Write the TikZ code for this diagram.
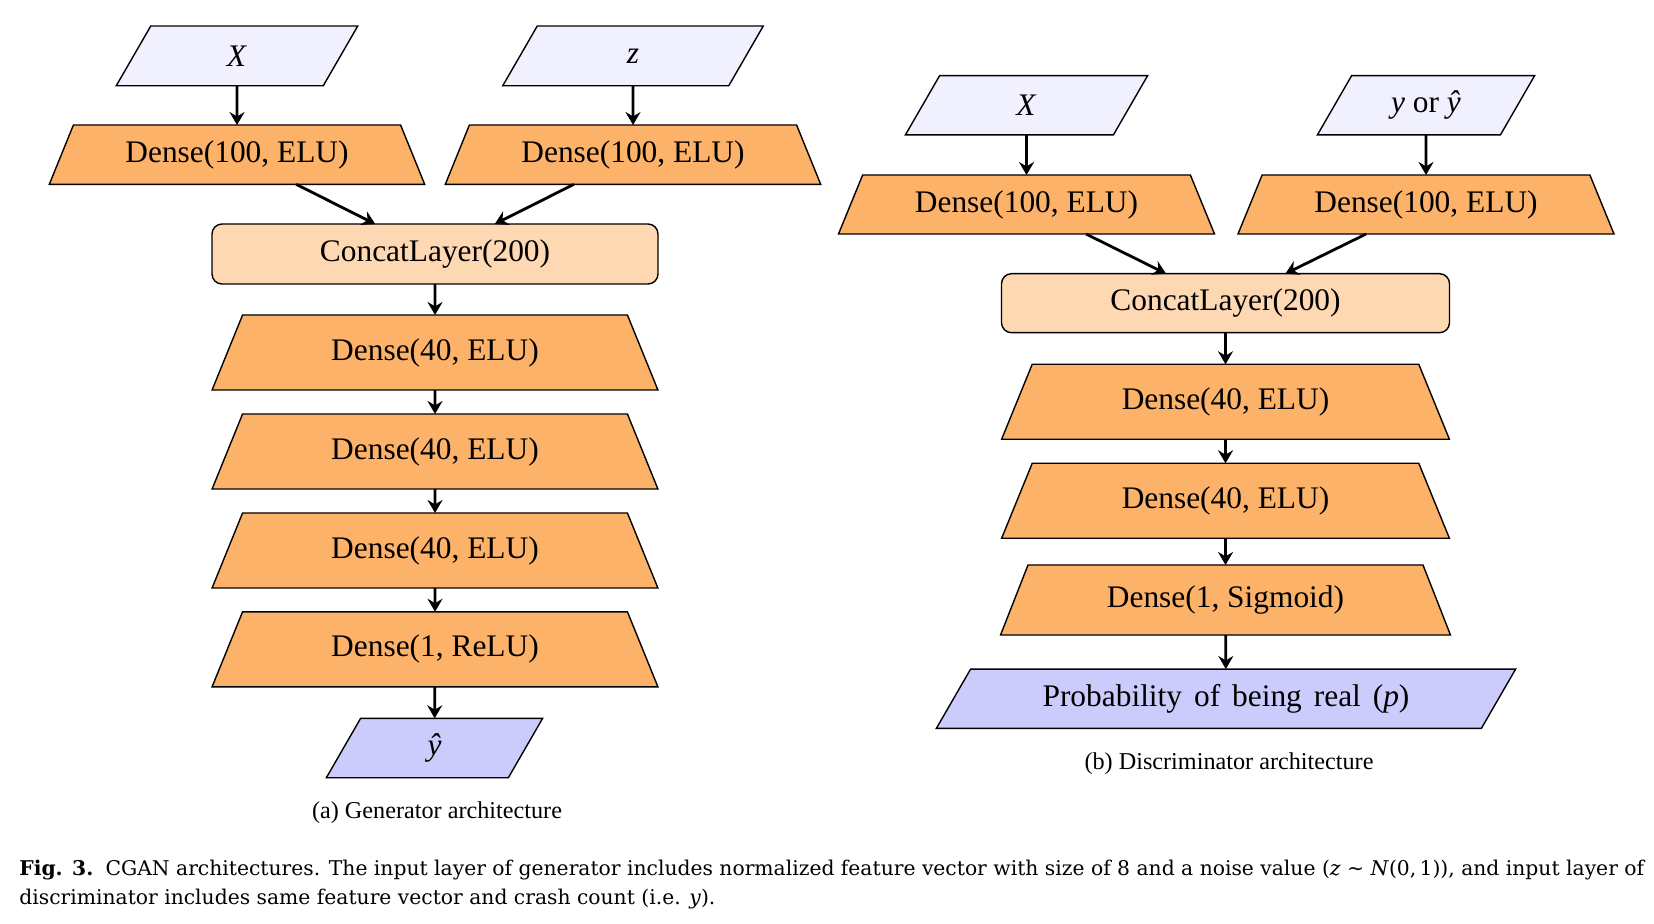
\documentclass[tikz,border=0pt]{standalone}
\usepackage{fontspec}
\setmainfont{Liberation Serif}
\newfontfamily\capfont{DejaVu Serif}
\usetikzlibrary{shapes.geometric,arrows.meta,backgrounds}
\definecolor{inpfill}{RGB}{240,240,254}
\definecolor{layfill}{RGB}{253,178,106}
\definecolor{catfill}{RGB}{254,216,178}
\definecolor{outfill}{RGB}{204,204,252}
% parallelogram outline round a rectangular node: #1 node, #2 fill, #3 half slant
\newcommand{\drawpara}[3]{%
  \begin{scope}[on background layer]
  \draw[line width=0.7pt, fill=#2] ([xshift=-#3]#1.south west) -- ([xshift=-#3]#1.south east)
     -- ([xshift=#3]#1.north east) -- ([xshift=#3]#1.north west) -- cycle;
  \end{scope}}
\begin{document}
\begin{tikzpicture}[x=0.5pt,y=-0.5pt,
  base/.style={draw, line width=0.7pt, inner sep=0pt, outer sep=0pt, font=\fontsize{15.7}{19}\selectfont},
  lay/.style={base, trapezium, trapezium left angle=60, trapezium right angle=60,
    trapezium stretches=true, fill=layfill},
  para/.style={rectangle, inner sep=0pt, outer sep=0pt, font=\fontsize{15.7}{19}\selectfont},
  cat/.style={base, rectangle, rounded corners=5pt, fill=catfill},
  arr/.style={line width=1.4pt, -{Stealth[length=6.5pt,width=7.5pt,inset=2.2pt]}},
  sub/.style={font=\fontsize{12.1}{14}\selectfont, inner sep=0pt},
  figcap/.style={font=\capfont\fontsize{10.15}{12}\selectfont, inner sep=0pt, anchor=base west}
]
\useasboundingbox (0,0) rectangle (1654,924);

% ---------- Generator ----------
\node[para, minimum width=103.5pt, minimum height=29.85pt] (gX) at (237,55.9) {\textit{X}};
\node[para, minimum width=113pt, minimum height=29.85pt] (gz) at (633,55.9) {\textit{z}};
\drawpara{gX}{inpfill}{8.62pt}
\drawpara{gz}{inpfill}{8.62pt}
\node[lay, minimum width=188pt, minimum height=29.65pt] (gd1) at (237,154.7) {Dense(100, ELU)};
\node[lay, minimum width=188pt, minimum height=29.65pt] (gd2) at (633,154.7) {Dense(100, ELU)};
\node[cat, minimum width=223pt, minimum height=30pt] (gcat) at (435,254) {ConcatLayer(200)};
\node[lay, minimum width=223pt, minimum height=37.5pt] (gl1) at (435,352.5) {Dense(40, ELU)};
\node[lay, minimum width=223pt, minimum height=37.5pt] (gl2) at (435,451.5) {Dense(40, ELU)};
\node[lay, minimum width=223pt, minimum height=37.5pt] (gl3) at (435,550.5) {Dense(40, ELU)};
\node[lay, minimum width=223pt, minimum height=37.5pt] (gl4) at (435,649.3) {Dense(1, ReLU)};
\node[para, minimum width=91pt, minimum height=29.7pt] (gy) at (434.5,748) {\textit{ŷ}};
\drawpara{gy}{outfill}{8.57pt}
\node[sub] (gcap) at (437,813) {(a) Generator architecture};

\draw[arr] (gX) -- (gd1);
\draw[arr] (gz) -- (gd2);
\draw[arr] (gd1) -- (gcat);
\draw[arr] (gd2) -- (gcat);
\draw[arr] (gcat) -- (gl1);
\draw[arr] (gl1) -- (gl2);
\draw[arr] (gl2) -- (gl3);
\draw[arr] (gl3) -- (gl4);
\draw[arr] (gl4) -- (gy);

% ---------- Discriminator ----------
\node[para, minimum width=104pt, minimum height=29.65pt] (dX) at (1026.5,105.3) {\textit{X}};
\node[para, minimum width=91.5pt, minimum height=29.65pt] (dy) at (1426,105.3) {\textit{y} or \textit{ŷ}};
\drawpara{dX}{inpfill}{8.56pt}
\drawpara{dy}{inpfill}{8.56pt}
\node[lay, minimum width=188.3pt, minimum height=29.5pt] (dd1) at (1026.5,204.5) {Dense(100, ELU)};
\node[lay, minimum width=188.3pt, minimum height=29.5pt] (dd2) at (1426,204.5) {Dense(100, ELU)};
\node[cat, minimum width=224pt, minimum height=29.5pt] (dcat) at (1225.5,303.2) {ConcatLayer(200)};
\node[lay, minimum width=224pt, minimum height=37.5pt] (dl1) at (1225.5,401.8) {Dense(40, ELU)};
\node[lay, minimum width=224pt, minimum height=37.5pt] (dl2) at (1225.5,500.8) {Dense(40, ELU)};
\node[lay, minimum width=225pt, minimum height=35pt] (dl3) at (1225.5,600) {Dense(1, Sigmoid)};
\node[para, minimum width=272.5pt, minimum height=29.65pt] (dp) at (1226,698.7)
  {Probability\hspace{0.38em}of\hspace{0.38em}being\hspace{0.38em}real\hspace{0.38em}(\textit{p})};
\drawpara{dp}{outfill}{8.56pt}
\node[sub] (dcap) at (1229,764) {(b) Discriminator architecture};

\draw[arr] (dX) -- (dd1);
\draw[arr] (dy) -- (dd2);
\draw[arr] (dd1) -- (dcat);
\draw[arr] (dd2) -- (dcat);
\draw[arr] (dcat) -- (dl1);
\draw[arr] (dl1) -- (dl2);
\draw[arr] (dl2) -- (dl3);
\draw[arr] (dl3) -- (dp);

% ---------- Figure caption ----------
\node[figcap] (c1) at (19,875) {\textbf{Fig. 3.}\hspace{0.6em}CGAN architectures. The input layer of generator includes normalized feature vector with size of 8 and a noise value (\textit{z} ∼ \textit{N}(0,\,1)), and input layer of};
\node[figcap] (c2) at (19,904) {discriminator includes same feature vector and crash count (i.e. \textit{y}).};
\end{tikzpicture}
\end{document}
